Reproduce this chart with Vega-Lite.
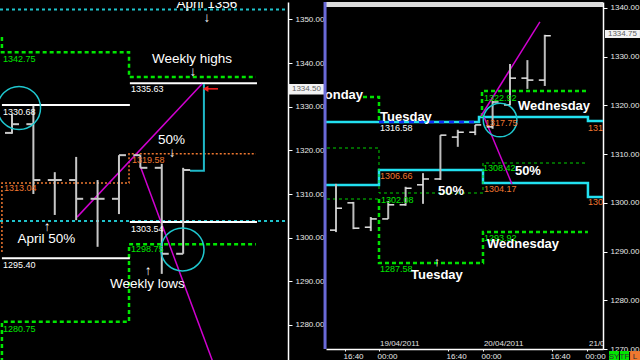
{
  "$schema": "https://vega.github.io/schema/vega-lite/v6.json",
  "background": "#000000",
  "padding": 0,
  "spacing": 38,
  "bounds": "flush",
  "config": {
    "view": {"stroke": null},
    "axis": {"grid": false, "domainColor": "#ffffff", "tickColor": "#ffffff", "labelColor": "#e8e8e8", "labelFont": "Liberation Sans", "labelFontSize": 8, "tickSize": 4, "labelPadding": 3, "domainWidth": 1.5, "titleColor": "#000000", "titleFontSize": 1}
  },
  "datasets": {
    "left_bars": [
      {"t": 0, "o": 1324.0, "h": 1328.3, "l": 1323.8, "c": 1326.0},
      {"t": 1, "o": 1326.0, "h": 1330.2, "l": 1310.0, "c": 1313.2},
      {"t": 2, "o": 1313.2, "h": 1315.0, "l": 1305.2, "c": 1313.2},
      {"t": 3, "o": 1313.2, "h": 1318.5, "l": 1304.0, "c": 1308.9},
      {"t": 4, "o": 1308.9, "h": 1313.2, "l": 1297.9, "c": 1308.9},
      {"t": 5, "o": 1308.9, "h": 1318.9, "l": 1305.4, "c": 1318.9},
      {"t": 6, "o": 1318.9, "h": 1318.9, "l": 1316.0, "c": 1316.0},
      {"t": 7, "o": 1316.0, "h": 1316.9, "l": 1291.7, "c": 1296.3},
      {"t": 8, "o": 1296.3, "h": 1316.0, "l": 1296.3, "c": 1315.5}
    ],
    "left_levels": [
      {"level": "april_high", "n": 0, "t": -0.56, "p": 1352.3},
      {"level": "april_high", "n": 1, "t": 12.9, "p": 1352.3},
      {"level": "april_mid", "n": 0, "t": -0.56, "p": 1303.8},
      {"level": "april_mid", "n": 1, "t": 12.9, "p": 1303.8},
      {"level": "weekly_high", "n": 0, "t": -0.47, "p": 1346.0},
      {"level": "weekly_high", "n": 1, "t": -0.47, "p": 1342.5},
      {"level": "weekly_high", "n": 2, "t": 5.47, "p": 1342.5},
      {"level": "weekly_high", "n": 3, "t": 5.47, "p": 1336.8},
      {"level": "weekly_high", "n": 4, "t": 11.4, "p": 1336.8},
      {"level": "weekly_low", "n": 0, "t": -0.47, "p": 1271.5},
      {"level": "weekly_low", "n": 1, "t": -0.47, "p": 1280.7},
      {"level": "weekly_low", "n": 2, "t": 5.47, "p": 1280.7},
      {"level": "weekly_low", "n": 3, "t": 5.47, "p": 1298.5},
      {"level": "weekly_low", "n": 4, "t": 11.4, "p": 1298.5},
      {"level": "weekly_mid", "n": 0, "t": -0.47, "p": 1296.7},
      {"level": "weekly_mid", "n": 1, "t": -0.47, "p": 1312.5},
      {"level": "weekly_mid", "n": 2, "t": 5.47, "p": 1312.5},
      {"level": "weekly_mid", "n": 3, "t": 5.47, "p": 1319.2},
      {"level": "weekly_mid", "n": 4, "t": 11.4, "p": 1319.2},
      {"level": "prev_high1", "n": 0, "t": -0.47, "p": 1330.4},
      {"level": "prev_high1", "n": 1, "t": 5.51, "p": 1330.4},
      {"level": "prev_high2", "n": 0, "t": 5.51, "p": 1335.4},
      {"level": "prev_high2", "n": 1, "t": 11.45, "p": 1335.4},
      {"level": "prev_low1", "n": 0, "t": -0.47, "p": 1295.3},
      {"level": "prev_low1", "n": 1, "t": 5.51, "p": 1295.3},
      {"level": "prev_low2", "n": 0, "t": 5.51, "p": 1303.6},
      {"level": "prev_low2", "n": 1, "t": 11.45, "p": 1303.6},
      {"level": "trend_up", "n": 0, "t": 3.04, "p": 1304.7},
      {"level": "trend_up", "n": 1, "t": 8.88, "p": 1335.2},
      {"level": "trend_down", "n": 0, "t": 5.98, "p": 1316.6},
      {"level": "trend_down", "n": 1, "t": 9.39, "p": 1271.5},
      {"level": "target", "n": 0, "t": 8.32, "p": 1315.3},
      {"level": "target", "n": 1, "t": 8.97, "p": 1315.3},
      {"level": "target", "n": 2, "t": 8.97, "p": 1335.2},
      {"level": "arrow", "n": 0, "t": 9.05, "p": 1334.1},
      {"level": "arrow", "n": 1, "t": 9.63, "p": 1334.1}
    ],
    "left_circles": [
      {"t": 0.33, "p": 1329.7},
      {"t": 7.97, "p": 1297.3}
    ],
    "left_tags": [
      {"label": "1342.75", "kind": "weekly", "t": -0.42, "p": 1340.9},
      {"label": "1330.68", "kind": "prev", "t": -0.42, "p": 1328.8},
      {"label": "1313.04", "kind": "mid", "t": -0.37, "p": 1311.4},
      {"label": "1319.58", "kind": "mid", "t": 5.61, "p": 1317.8},
      {"label": "1335.63", "kind": "prev", "t": 5.56, "p": 1334.1},
      {"label": "1303.54", "kind": "prev", "t": 5.56, "p": 1302.0},
      {"label": "1298.75", "kind": "weekly", "t": 5.56, "p": 1297.4},
      {"label": "1295.40", "kind": "prev", "t": -0.42, "p": 1293.7},
      {"label": "1280.75", "kind": "weekly", "t": -0.42, "p": 1279.1}
    ],
    "left_notes": [
      {"label": "April 1356", "t": 9.11, "p": 1353.5},
      {"label": "↓", "t": 9.11, "p": 1350.3},
      {"label": "Weekly highs", "t": 8.41, "p": 1340.9},
      {"label": "↓", "t": 8.46, "p": 1338.0},
      {"label": "50%", "t": 7.46, "p": 1322.4},
      {"label": "↓", "t": 7.48, "p": 1319.4},
      {"label": "↑", "t": 1.64, "p": 1302.4},
      {"label": "April 50%", "t": 1.61, "p": 1299.7},
      {"label": "↑", "t": 6.36, "p": 1292.4},
      {"label": "Weekly lows", "t": 6.33, "p": 1289.4}
    ],
    "left_box": [
      {"label": "1334.50", "t1": 12.9, "t2": 14.63, "p1": 1335.21, "p2": 1332.8, "tc": 13.76, "pc": 1334.0}
    ],
    "right_bars": [
      {"i": 0, "o": 1294.4, "h": 1303.9, "l": 1294.0, "c": 1298.9},
      {"i": 1, "o": 1300.0, "h": 1300.2, "l": 1294.6, "c": 1294.8},
      {"i": 2, "o": 1295.0, "h": 1297.1, "l": 1294.2, "c": 1296.7},
      {"i": 3, "o": 1296.7, "h": 1300.4, "l": 1296.7, "c": 1299.6},
      {"i": 4, "o": 1299.6, "h": 1303.3, "l": 1299.4, "c": 1303.0},
      {"i": 5, "o": 1303.7, "h": 1306.1, "l": 1299.8, "c": 1304.9},
      {"i": 6, "o": 1304.9, "h": 1313.9, "l": 1304.7, "c": 1313.9},
      {"i": 7, "o": 1313.5, "h": 1315.0, "l": 1311.5, "c": 1314.5},
      {"i": 8, "o": 1314.5, "h": 1316.0, "l": 1313.9, "c": 1316.0},
      {"i": 9, "o": 1315.6, "h": 1320.9, "l": 1315.2, "c": 1320.7},
      {"i": 10, "o": 1320.1, "h": 1328.5, "l": 1320.0, "c": 1325.6},
      {"i": 11, "o": 1325.6, "h": 1329.3, "l": 1323.4, "c": 1325.2},
      {"i": 12, "o": 1325.2, "h": 1334.5, "l": 1324.0, "c": 1334.3}
    ],
    "right_levels": [
      {"level": "ref_high", "n": 0, "i": -0.575, "p": 1316.6},
      {"level": "ref_high", "n": 1, "i": 8.218, "p": 1316.6},
      {"level": "ref_high", "n": 2, "i": 8.218, "p": 1317.62},
      {"level": "ref_high", "n": 3, "i": 14.48, "p": 1317.62},
      {"level": "ref_high", "n": 4, "i": 14.48, "p": 1316.8},
      {"level": "ref_high", "n": 5, "i": 15.345, "p": 1316.8},
      {"level": "ref_mid", "n": 0, "i": -0.575, "p": 1303.66},
      {"level": "ref_mid", "n": 1, "i": 2.471, "p": 1303.66},
      {"level": "ref_mid", "n": 2, "i": 2.471, "p": 1306.74},
      {"level": "ref_mid", "n": 3, "i": 8.448, "p": 1306.74},
      {"level": "ref_mid", "n": 4, "i": 8.448, "p": 1304.07},
      {"level": "ref_mid", "n": 5, "i": 14.48, "p": 1304.07},
      {"level": "ref_mid", "n": 6, "i": 14.48, "p": 1301.2},
      {"level": "ref_mid", "n": 7, "i": 15.345, "p": 1301.2},
      {"level": "tue_high", "n": 0, "i": 2.471, "p": 1316.6},
      {"level": "tue_high", "n": 1, "i": 8.218, "p": 1316.6},
      {"level": "mon_high", "n": 0, "i": 1.552, "p": 1321.73},
      {"level": "mon_high", "n": 1, "i": 2.471, "p": 1321.73},
      {"level": "mon_high", "n": 2, "i": 2.471, "p": 1316.6},
      {"level": "tue_low", "n": 0, "i": 2.471, "p": 1300.79},
      {"level": "tue_low", "n": 1, "i": 2.471, "p": 1287.65},
      {"level": "tue_low", "n": 2, "i": 8.448, "p": 1287.65},
      {"level": "tue_low", "n": 3, "i": 8.448, "p": 1294.01},
      {"level": "tue_low", "n": 4, "i": 14.48, "p": 1294.01},
      {"level": "wed_high", "n": 0, "i": 8.391, "p": 1317.62},
      {"level": "wed_high", "n": 1, "i": 8.391, "p": 1322.96},
      {"level": "wed_high", "n": 2, "i": 14.48, "p": 1322.96},
      {"level": "tue_mid", "n": 0, "i": -0.517, "p": 1311.26},
      {"level": "tue_mid", "n": 1, "i": 2.471, "p": 1311.26},
      {"level": "tue_mid", "n": 2, "i": 2.471, "p": 1302.02},
      {"level": "tue_mid", "n": 3, "i": 8.448, "p": 1302.02},
      {"level": "tue_mid", "n": 4, "i": 8.448, "p": 1308.18},
      {"level": "tue_mid", "n": 5, "i": 14.31, "p": 1308.18},
      {"level": "mon_low", "n": 0, "i": -0.517, "p": 1300.79},
      {"level": "mon_low", "n": 1, "i": 2.471, "p": 1300.79},
      {"level": "trend_up", "n": 0, "i": 8.333, "p": 1317.83},
      {"level": "trend_up", "n": 1, "i": 11.72, "p": 1337.13},
      {"level": "trend_down", "n": 0, "i": 8.506, "p": 1317.62},
      {"level": "trend_down", "n": 1, "i": 10.11, "p": 1303.87}
    ],
    "right_circles": [
      {"i": 9.43, "p": 1317.0}
    ],
    "right_tags": [
      {"label": "1322.92", "kind": "daily", "i": 8.506, "p": 1321.52},
      {"label": "1317.75", "kind": "ref", "i": 8.563, "p": 1316.4},
      {"label": "1316.58", "kind": "tue", "i": 2.529, "p": 1315.36},
      {"label": "1306.66", "kind": "ref", "i": 2.529, "p": 1305.51},
      {"label": "1302.08", "kind": "daily", "i": 2.586, "p": 1300.58},
      {"label": "1308.42", "kind": "daily", "i": 8.448, "p": 1307.15},
      {"label": "1304.17", "kind": "ref", "i": 8.506, "p": 1302.84},
      {"label": "1293.92", "kind": "daily", "i": 8.506, "p": 1292.78},
      {"label": "1287.58", "kind": "daily", "i": 2.529, "p": 1286.42},
      {"label": "1316.80", "kind": "ref", "i": 14.48, "p": 1315.36},
      {"label": "1301.20", "kind": "ref", "i": 14.48, "p": 1300.17}
    ],
    "right_notes": [
      {"label": "Monday", "i": 0.144, "p": 1322.14},
      {"label": "Tuesday", "i": 4.02, "p": 1317.62},
      {"label": "Wednesday", "i": 12.53, "p": 1319.88},
      {"label": "50%", "i": 6.61, "p": 1302.43},
      {"label": "50%", "i": 11.03, "p": 1306.54},
      {"label": "Wednesday", "i": 10.75, "p": 1291.55},
      {"label": "↑", "i": 5.8, "p": 1287.86},
      {"label": "Tuesday", "i": 5.8, "p": 1285.19}
    ],
    "right_dates": [
      {"label": "19/04/2011", "i": 2.53, "p": 1271.1},
      {"label": "20/04/2011", "i": 8.5, "p": 1271.1},
      {"label": "21/04/2011", "i": 14.54, "p": 1271.1}
    ],
    "right_frame": [
      {"i1": -0.575, "i2": 15.345, "p1": 1340.2, "p2": 1341.23}
    ],
    "right_box": [
      {"label": "1334.75", "i1": 15.46, "i2": 17.47, "p1": 1335.48, "p2": 1333.84, "ic": 16.46, "pc": 1334.66}
    ],
    "right_buttons": [
      {"label": "SY", "kind": "off", "i1": 15.69, "i2": 16.26, "p1": 1269.58, "p2": 1267.2, "ic": 15.975, "pc": 1268.4},
      {"label": "TF", "kind": "off", "i1": 16.32, "i2": 16.84, "p1": 1269.58, "p2": 1267.2, "ic": 16.58, "pc": 1268.4},
      {"label": "L", "kind": "on", "i1": 16.9, "i2": 17.47, "p1": 1269.58, "p2": 1267.2, "ic": 17.185, "pc": 1268.4}
    ],
    "divider": [
      {"i": -0.63}
    ]
  },
  "hconcat": [
    {
      "width": 288,
      "height": 360,
      "layer": [
        {
          "data": {"name": "left_levels"},
          "transform": [{"filter": "indexof(['april_high','april_mid'], datum.level) >= 0"}],
          "mark": {"type": "line", "color": "#1fc3cc", "strokeWidth": 2, "strokeDash": [3, 3], "clip": true},
          "encoding": {
            "x": {"field": "t", "type": "quantitative", "scale": {"domain": [-0.56, 12.9], "nice": false, "zero": false}, "axis": null},
            "y": {"field": "p", "type": "quantitative", "scale": {"domain": [1271.5, 1354.0], "nice": false, "zero": false}, "axis": {"orient": "right", "values": [1280, 1290, 1300, 1310, 1320, 1330, 1340, 1350], "format": ".2f", "title": null, "labelOverlap": false}},
            "detail": {"field": "level"},
            "order": {"field": "n"}
          }
        },
        {
          "data": {"name": "left_levels"},
          "transform": [{"filter": "datum.level == 'weekly_mid'"}],
          "mark": {"type": "line", "color": "#f07830", "strokeWidth": 1.5, "strokeDash": [2, 2], "clip": true},
          "encoding": {
            "x": {"field": "t", "type": "quantitative"},
            "y": {"field": "p", "type": "quantitative"},
            "detail": {"field": "level"},
            "order": {"field": "n"}
          }
        },
        {
          "data": {"name": "left_levels"},
          "transform": [{"filter": "indexof(['weekly_high','weekly_low'], datum.level) >= 0"}],
          "mark": {"type": "line", "color": "#00e600", "strokeWidth": 2.5, "strokeDash": [4, 3], "clip": true},
          "encoding": {
            "x": {"field": "t", "type": "quantitative"},
            "y": {"field": "p", "type": "quantitative"},
            "detail": {"field": "level"},
            "order": {"field": "n"}
          }
        },
        {
          "data": {"name": "left_levels"},
          "transform": [{"filter": "indexof(['prev_high1','prev_high2','prev_low1','prev_low2'], datum.level) >= 0"}],
          "mark": {"type": "line", "color": "#ffffff", "strokeWidth": 2, "clip": true},
          "encoding": {
            "x": {"field": "t", "type": "quantitative"},
            "y": {"field": "p", "type": "quantitative"},
            "detail": {"field": "level"},
            "order": {"field": "n"}
          }
        },
        {
          "data": {"name": "left_levels"},
          "transform": [{"filter": "datum.level == 'target'"}],
          "mark": {"type": "line", "color": "#1fb8c8", "strokeWidth": 2, "clip": true},
          "encoding": {
            "x": {"field": "t", "type": "quantitative"},
            "y": {"field": "p", "type": "quantitative"},
            "order": {"field": "n"}
          }
        },
        {
          "data": {"name": "left_levels"},
          "transform": [{"filter": "indexof(['trend_up','trend_down'], datum.level) >= 0"}],
          "mark": {"type": "line", "color": "#d000d0", "strokeWidth": 1.5, "clip": true},
          "encoding": {
            "x": {"field": "t", "type": "quantitative"},
            "y": {"field": "p", "type": "quantitative"},
            "detail": {"field": "level"},
            "order": {"field": "n"}
          }
        },
        {
          "data": {"name": "left_bars"},
          "mark": {"type": "rule", "color": "#c8c8c8", "strokeWidth": 2},
          "encoding": {
            "x": {"field": "t", "type": "quantitative"},
            "y": {"field": "l", "type": "quantitative"},
            "y2": {"field": "h"}
          }
        },
        {
          "data": {"name": "left_bars"},
          "mark": {"type": "rule", "color": "#c8c8c8", "strokeWidth": 2, "x2Offset": -7},
          "encoding": {
            "x": {"field": "t", "type": "quantitative"},
            "x2": {"field": "t"},
            "y": {"field": "o", "type": "quantitative"}
          }
        },
        {
          "data": {"name": "left_bars"},
          "mark": {"type": "rule", "color": "#c8c8c8", "strokeWidth": 2, "x2Offset": 7},
          "encoding": {
            "x": {"field": "t", "type": "quantitative"},
            "x2": {"field": "t"},
            "y": {"field": "c", "type": "quantitative"}
          }
        },
        {
          "data": {"name": "left_circles"},
          "mark": {"type": "point", "shape": "circle", "filled": false, "color": "#1fc8d0", "strokeWidth": 1.5, "size": 1850, "opacity": 1, "clip": true},
          "encoding": {
            "x": {"field": "t", "type": "quantitative"},
            "y": {"field": "p", "type": "quantitative"}
          }
        },
        {
          "data": {"name": "left_levels"},
          "transform": [{"filter": "datum.level == 'arrow'"}],
          "mark": {"type": "line", "color": "#ff2020", "strokeWidth": 1.5},
          "encoding": {
            "x": {"field": "t", "type": "quantitative"},
            "y": {"field": "p", "type": "quantitative"},
            "order": {"field": "n"}
          }
        },
        {
          "data": {"name": "left_levels"},
          "transform": [{"filter": "datum.level == 'arrow' && datum.n == 0"}],
          "mark": {"type": "point", "shape": "triangle-left", "filled": true, "color": "#ff2020", "size": 40, "opacity": 1},
          "encoding": {
            "x": {"field": "t", "type": "quantitative"},
            "y": {"field": "p", "type": "quantitative"}
          }
        },
        {
          "data": {"name": "left_tags"},
          "mark": {"type": "text", "align": "left", "baseline": "middle", "font": "Liberation Sans", "fontSize": 9, "clip": true},
          "encoding": {
            "x": {"field": "t", "type": "quantitative"},
            "y": {"field": "p", "type": "quantitative"},
            "text": {"field": "label"},
            "color": {"field": "kind", "type": "nominal", "scale": {"domain": ["weekly", "mid", "prev"], "range": ["#00e600", "#f07830", "#ffffff"]}, "legend": null}
          }
        },
        {
          "data": {"name": "left_notes"},
          "mark": {"type": "text", "align": "center", "baseline": "middle", "font": "Liberation Sans", "fontSize": 13.5, "color": "#ffffff", "clip": true},
          "encoding": {
            "x": {"field": "t", "type": "quantitative"},
            "y": {"field": "p", "type": "quantitative"},
            "text": {"field": "label"}
          }
        },
        {
          "data": {"name": "left_box"},
          "mark": {"type": "rect", "color": "#f2f2f2"},
          "encoding": {
            "x": {"field": "t1", "type": "quantitative"},
            "x2": {"field": "t2"},
            "y": {"field": "p1", "type": "quantitative"},
            "y2": {"field": "p2"}
          }
        },
        {
          "data": {"name": "left_box"},
          "mark": {"type": "text", "align": "center", "baseline": "middle", "font": "Liberation Sans", "fontSize": 8, "color": "#606060"},
          "encoding": {
            "x": {"field": "tc", "type": "quantitative"},
            "y": {"field": "pc", "type": "quantitative"},
            "text": {"field": "label"}
          }
        }
      ]
    },
    {
      "width": 277,
      "height": 347,
      "layer": [
        {
          "data": {"name": "right_levels"},
          "transform": [{"filter": "indexof(['ref_high','ref_mid'], datum.level) >= 0"}],
          "mark": {"type": "line", "color": "#22e0f0", "strokeWidth": 2.5, "clip": true},
          "encoding": {
            "x": {"field": "i", "type": "quantitative", "scale": {"domain": [-0.575, 15.345], "nice": false, "zero": false}, "axis": {"orient": "bottom", "values": [0.52, 2.47, 6.44, 8.45, 12.41, 14.43], "labelExpr": "indexof([2.47, 8.45, 14.43], datum.value) >= 0 ? '00:00' : '16:40'", "labelAlign": "left", "labelOffset": -2, "tickSize": 2, "labelPadding": 1, "labelFlush": false, "labelOverlap": false, "title": null}},
            "y": {"field": "p", "type": "quantitative", "scale": {"domain": [1270, 1341.23], "nice": false, "zero": false}, "axis": {"orient": "right", "values": [1270, 1280, 1290, 1300, 1310, 1320, 1330, 1340], "format": ".2f", "title": null, "labelOverlap": false}},
            "detail": {"field": "level"},
            "order": {"field": "n"}
          }
        },
        {
          "data": {"name": "right_levels"},
          "transform": [{"filter": "datum.level == 'tue_high'"}],
          "mark": {"type": "line", "color": "#1030ff", "strokeWidth": 2.5, "strokeDash": [5, 5], "clip": true},
          "encoding": {
            "x": {"field": "i", "type": "quantitative"},
            "y": {"field": "p", "type": "quantitative"},
            "order": {"field": "n"}
          }
        },
        {
          "data": {"name": "right_levels"},
          "transform": [{"filter": "indexof(['mon_high','tue_low','wed_high'], datum.level) >= 0"}],
          "mark": {"type": "line", "color": "#00e000", "strokeWidth": 2.5, "strokeDash": [4, 3], "clip": true},
          "encoding": {
            "x": {"field": "i", "type": "quantitative"},
            "y": {"field": "p", "type": "quantitative"},
            "detail": {"field": "level"},
            "order": {"field": "n"}
          }
        },
        {
          "data": {"name": "right_levels"},
          "transform": [{"filter": "indexof(['tue_mid','mon_low'], datum.level) >= 0"}],
          "mark": {"type": "line", "color": "#00d000", "strokeWidth": 1, "strokeDash": [3, 3], "clip": true},
          "encoding": {
            "x": {"field": "i", "type": "quantitative"},
            "y": {"field": "p", "type": "quantitative"},
            "detail": {"field": "level"},
            "order": {"field": "n"}
          }
        },
        {
          "data": {"name": "right_levels"},
          "transform": [{"filter": "indexof(['trend_up','trend_down'], datum.level) >= 0"}],
          "mark": {"type": "line", "color": "#d000d0", "strokeWidth": 1.5, "clip": true},
          "encoding": {
            "x": {"field": "i", "type": "quantitative"},
            "y": {"field": "p", "type": "quantitative"},
            "detail": {"field": "level"},
            "order": {"field": "n"}
          }
        },
        {
          "data": {"name": "right_bars"},
          "mark": {"type": "rule", "color": "#bdbdbd", "strokeWidth": 2},
          "encoding": {
            "x": {"field": "i", "type": "quantitative"},
            "y": {"field": "l", "type": "quantitative"},
            "y2": {"field": "h"}
          }
        },
        {
          "data": {"name": "right_bars"},
          "mark": {"type": "rule", "color": "#e6e6e6", "strokeWidth": 1.5, "x2Offset": -6},
          "encoding": {
            "x": {"field": "i", "type": "quantitative"},
            "x2": {"field": "i"},
            "y": {"field": "o", "type": "quantitative"}
          }
        },
        {
          "data": {"name": "right_bars"},
          "mark": {"type": "rule", "color": "#e6e6e6", "strokeWidth": 1.5, "x2Offset": 6},
          "encoding": {
            "x": {"field": "i", "type": "quantitative"},
            "x2": {"field": "i"},
            "y": {"field": "c", "type": "quantitative"}
          }
        },
        {
          "data": {"name": "right_circles"},
          "mark": {"type": "point", "shape": "circle", "filled": false, "color": "#1fc8d0", "strokeWidth": 1.5, "size": 1134, "opacity": 1, "clip": true},
          "encoding": {
            "x": {"field": "i", "type": "quantitative"},
            "y": {"field": "p", "type": "quantitative"}
          }
        },
        {
          "data": {"name": "right_tags"},
          "mark": {"type": "text", "align": "left", "baseline": "middle", "font": "Liberation Sans", "fontSize": 9, "clip": true},
          "encoding": {
            "x": {"field": "i", "type": "quantitative"},
            "y": {"field": "p", "type": "quantitative"},
            "text": {"field": "label"},
            "color": {"field": "kind", "type": "nominal", "scale": {"domain": ["daily", "ref", "tue"], "range": ["#00e000", "#22e0f0", "#1030ff"]}, "legend": null}
          }
        },
        {
          "data": {"name": "right_notes"},
          "mark": {"type": "text", "align": "center", "baseline": "middle", "font": "Liberation Sans", "fontWeight": "bold", "fontSize": 13, "color": "#ffffff", "clip": true},
          "encoding": {
            "x": {"field": "i", "type": "quantitative"},
            "y": {"field": "p", "type": "quantitative"},
            "text": {"field": "label"}
          }
        },
        {
          "data": {"name": "right_dates"},
          "mark": {"type": "text", "align": "left", "baseline": "middle", "font": "Liberation Sans", "fontSize": 8, "color": "#e0e0e0", "clip": true},
          "encoding": {
            "x": {"field": "i", "type": "quantitative"},
            "y": {"field": "p", "type": "quantitative"},
            "text": {"field": "label"}
          }
        },
        {
          "data": {"name": "right_frame"},
          "mark": {"type": "rect", "color": "#dcdcdc"},
          "encoding": {
            "x": {"field": "i1", "type": "quantitative"},
            "x2": {"field": "i2"},
            "y": {"field": "p1", "type": "quantitative"},
            "y2": {"field": "p2"}
          }
        },
        {
          "data": {"name": "right_box"},
          "mark": {"type": "rect", "color": "#f2f2f2"},
          "encoding": {
            "x": {"field": "i1", "type": "quantitative"},
            "x2": {"field": "i2"},
            "y": {"field": "p1", "type": "quantitative"},
            "y2": {"field": "p2"}
          }
        },
        {
          "data": {"name": "right_box"},
          "mark": {"type": "text", "align": "center", "baseline": "middle", "font": "Liberation Sans", "fontSize": 8, "color": "#606060"},
          "encoding": {
            "x": {"field": "ic", "type": "quantitative"},
            "y": {"field": "pc", "type": "quantitative"},
            "text": {"field": "label"}
          }
        },
        {
          "data": {"name": "right_buttons"},
          "mark": {"type": "rect"},
          "encoding": {
            "x": {"field": "i1", "type": "quantitative"},
            "x2": {"field": "i2"},
            "y": {"field": "p1", "type": "quantitative"},
            "y2": {"field": "p2"},
            "color": {"field": "kind", "type": "nominal", "scale": {"domain": ["off", "on"], "range": ["#a8a8a8", "#22dd22"]}, "legend": null}
          }
        },
        {
          "data": {"name": "right_buttons"},
          "mark": {"type": "text", "align": "center", "baseline": "middle", "font": "Liberation Sans", "fontSize": 8, "color": "#303030"},
          "encoding": {
            "x": {"field": "ic", "type": "quantitative"},
            "y": {"field": "pc", "type": "quantitative"},
            "text": {"field": "label"}
          }
        },
        {
          "data": {"name": "divider"},
          "mark": {"type": "rule", "color": "#6a6ad8", "strokeWidth": 3},
          "encoding": {
            "x": {"field": "i", "type": "quantitative"}
          }
        }
      ]
    }
  ]
}
